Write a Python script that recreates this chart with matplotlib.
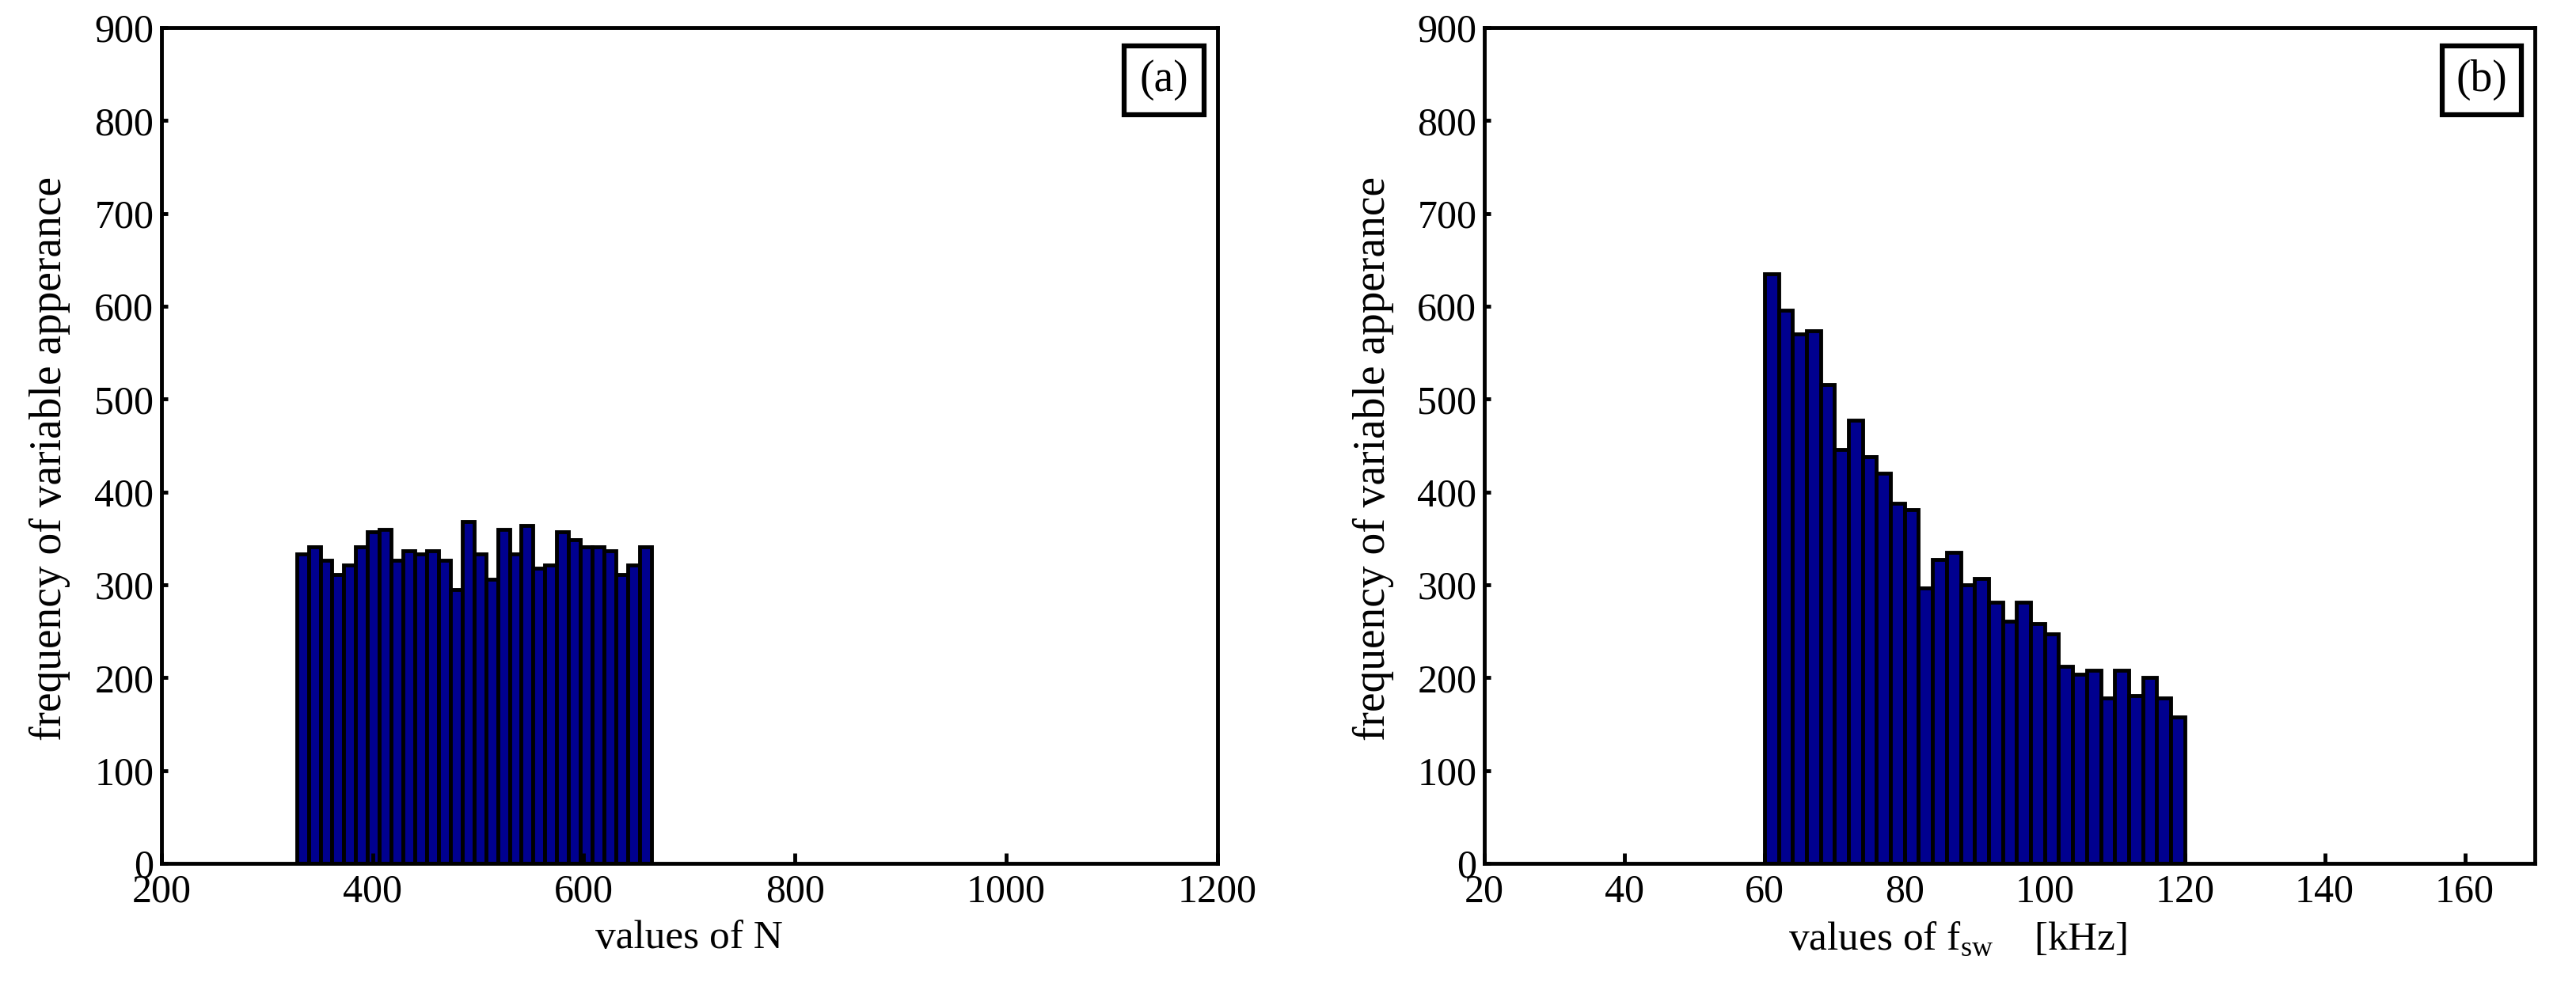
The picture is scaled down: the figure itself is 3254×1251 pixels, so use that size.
import numpy as np
import matplotlib
matplotlib.use("Agg")
import matplotlib.pyplot as plt
from matplotlib.patches import Rectangle

plt.rcParams['font.family'] = ['Liberation Serif', 'DejaVu Serif']
plt.rcParams['mathtext.fontset'] = 'custom'
plt.rcParams['mathtext.rm'] = 'Liberation Serif'

# ---- data ----
N_edges = np.linspace(328, 664, 31)
N_counts = [333, 341, 326, 311, 321, 341, 357, 360, 326, 337,
            333, 337, 326, 295, 368, 333, 306, 360, 333, 364,
            318, 321, 357, 349, 341, 341, 337, 311, 321, 341]

fsw_edges = np.arange(60, 121, 2)
fsw_counts = [635, 596, 570, 574, 516, 446, 477, 438, 420, 388,
              381, 297, 327, 335, 300, 307, 281, 261, 281, 258,
              247, 212, 204, 208, 178, 208, 181, 200, 178, 158]

N_ticks = [200, 400, 600, 800, 1000, 1200]
fsw_ticks = [20, 40, 60, 80, 100, 120, 140, 160]
y_ticks = [0, 100, 200, 300, 400, 500, 600, 700, 800, 900]

W, H = 3254, 1251
fig = plt.figure(figsize=(W / 100, H / 100), dpi=100)

bar_color = '#00008F'
lw = 3.5

def make_axes(left_px, right_px, top_px, bottom_px):
    return fig.add_axes([left_px / W, 1 - bottom_px / H,
                         (right_px - left_px) / W, (bottom_px - top_px) / H])

ax1 = make_axes(204, 1537.5, 35, 1091)
ax2 = make_axes(1875, 3202, 35, 1091)

def style(ax, xticks, xlim, label, tag, xlabel_x):
    for s in ax.spines.values():
        s.set_linewidth(lw)
    ax.set_xlim(*xlim)
    ax.set_ylim(0, 900)
    ax.set_xticks(xticks)
    ax.set_yticks(y_ticks)
    ax.tick_params(axis='x', direction='in', length=9.5, width=lw, labelsize=36, pad=9)
    ax.tick_params(axis='y', direction='in', length=6, width=lw, labelsize=36, pad=7)
    ax.set_ylabel('frequency of variable apperance', fontsize=40)
    ax.yaxis.set_label_coords(-0.0862, 0.484)
    ax.set_xlabel(label, fontsize=37)
    ax.xaxis.set_label_coords(xlabel_x, -0.068)
    # label box
    bw, bh = 101 / 1333.5, 87 / 1056
    bx = 1 - (17 + 101) / 1333.5
    by = 1 - (22.5 + 87) / 1056
    ax.add_patch(Rectangle((bx, by), bw, bh, transform=ax.transAxes,
                           fill=False, edgecolor='k', linewidth=lw + 1, zorder=5,
                           clip_on=False))
    ax.text(bx + bw / 2, by + bh / 2, tag, transform=ax.transAxes,
            ha='center', va='center', fontsize=40, zorder=6)

ax1.bar(N_edges[:-1], N_counts, width=np.diff(N_edges), align='edge',
        color=bar_color, edgecolor='k', linewidth=3.5)
style(ax1, N_ticks, (200, 1200), 'values of N', '(a)', 0.5)

ax2.bar(fsw_edges[:-1], fsw_counts, width=np.diff(fsw_edges), align='edge',
        color=bar_color, edgecolor='k', linewidth=3.5)
style(ax2, fsw_ticks, (20, 170), r'values of f$_{\mathregular{sw}}$    [kHz]', '(b)', 0.451)

fig.savefig('out.png', dpi=100)
